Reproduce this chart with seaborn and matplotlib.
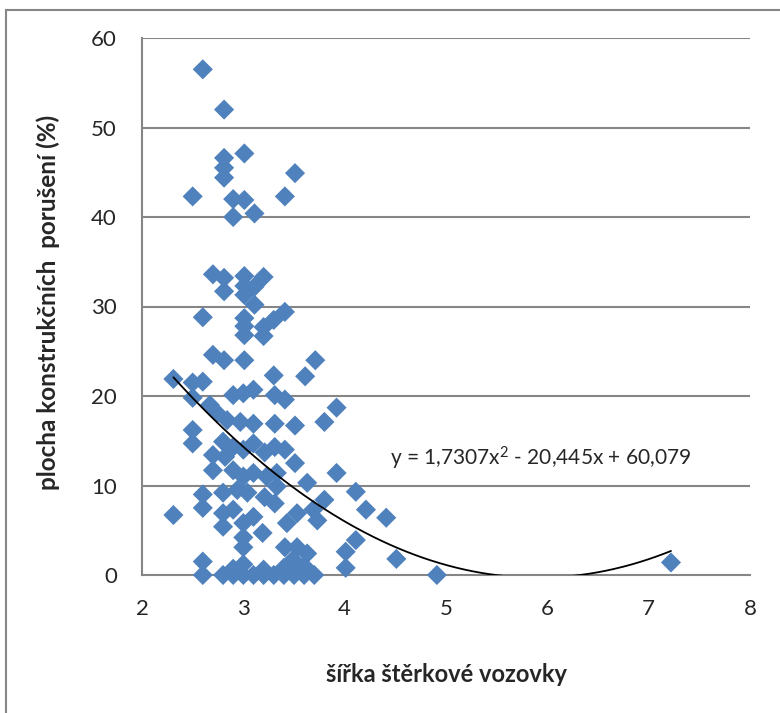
import numpy as np
import pandas as pd
import matplotlib
matplotlib.use("Agg")
import matplotlib.pyplot as plt
import seaborn as sns
from matplotlib.patches import Rectangle

# ---- data ----
sirka = [2.60, 2.81, 2.81, 3.01, 2.81, 2.81, 2.50, 3.51, 2.90, 3.01, 3.41, 2.90, 3.11,
         2.70, 2.81, 2.81, 3.01, 3.01, 3.20, 3.11, 3.01, 3.11, 2.60, 3.01, 3.01, 3.01, 3.20, 3.20, 3.30, 3.41,
         2.70, 2.81, 3.01, 3.71, 3.30, 3.61, 2.31, 2.50, 2.60,
         2.90, 3.00, 3.10, 3.31, 3.41, 2.50, 2.67, 3.92, 3.80, 2.74, 2.84, 2.97, 3.10, 3.31, 3.51, 2.50, 2.50,
         2.80, 2.90, 2.70, 2.70, 2.82, 3.00, 3.10, 3.21, 3.31, 3.41, 3.51, 2.90, 3.00, 3.10, 3.23, 3.33, 3.63,
         3.92, 4.11, 4.21, 4.41,
         2.60, 2.60, 2.31, 2.80, 2.94, 3.04, 2.80, 2.80, 2.90, 3.00, 3.00, 3.00, 3.10, 3.19, 3.21, 3.31, 3.33,
         3.43, 3.53, 3.73, 3.80, 3.69, 4.11, 4.01, 4.01, 2.60, 3.41, 3.53, 3.63, 3.49, 4.51, 4.91, 7.22,
         2.60, 2.80, 2.90, 3.00, 3.10, 3.20, 3.30, 3.40, 3.50, 3.60, 3.70,
         2.90, 3.20, 3.40, 3.50, 3.60, 3.00]
plocha = [56.5, 52.0, 46.6, 47.1, 45.5, 44.4, 42.3, 44.9, 42.0, 41.9, 42.3, 40.0, 40.4,
          33.6, 33.2, 31.7, 33.4, 32.3, 33.3, 32.2, 31.3, 30.2, 28.8, 28.7, 27.8, 26.8, 27.7, 26.7, 28.5, 29.4,
          24.6, 24.0, 24.0, 24.0, 22.3, 22.2, 21.9, 21.5, 21.6,
          20.1, 20.3, 20.7, 20.1, 19.6, 19.8, 19.0, 18.7, 17.1, 18.1, 17.3, 17.1, 16.9, 16.9, 16.7, 16.2, 14.7,
          14.9, 14.3, 13.4, 11.7, 13.2, 14.0, 14.7, 13.7, 14.3, 14.0, 12.5, 11.7, 11.0, 11.4, 11.0, 11.4, 10.3,
          11.4, 9.3, 7.3, 6.4,
          9.0, 7.5, 6.7, 9.2, 9.5, 9.2, 6.9, 5.4, 7.3, 5.8, 4.2, 3.1, 6.5, 4.7, 8.7, 8.0, 9.9,
          5.8, 6.9, 6.1, 8.4, 7.3, 3.9, 2.6, 0.8, 1.5, 3.1, 3.1, 2.4, 1.7, 1.8, 0.0, 1.4,
          0.0, 0.0, 0.0, 0.0, 0.0, 0.0, 0.0, 0.0, 0.0, 0.0, 0.0,
          0.7, 0.6, 0.8, 0.5, 1.0, 1.2]

# trendline coefficients (as printed on the chart)
coef_a, coef_b, coef_c = 1.7307, -20.445, 60.079
rovnice = "y = 1,7307x$^2$ - 20,445x + 60,079"

x_ticks = [2, 3, 4, 5, 6, 7, 8]
y_ticks = [0, 10, 20, 30, 40, 50, 60]
x_label = "šířka štěrkové vozovky"
y_label = "plocha konstrukčních  porušení (%)"

df = pd.DataFrame({"sirka": sirka, "plocha": plocha})

sns.set_style("white")
plt.rcParams["font.family"] = ["Lato", "DejaVu Sans"]
plt.rcParams["mathtext.default"] = "regular"

fig = plt.figure(figsize=(7.8, 7.13), dpi=100)
ax = fig.add_axes([142/780, 1 - 575/713, (750 - 142)/780, (575 - 38)/713])

grid_c = "#868686"
for yv in y_ticks[1:]:
    ax.axhline(yv, color=grid_c, lw=1.5, zorder=0)

sns.scatterplot(data=df, x="sirka", y="plocha", marker="D", s=105,
                color="#4F81BD", edgecolor="none", ax=ax, zorder=3, clip_on=False)

xs = np.linspace(min(sirka), max(sirka), 300)
ys = coef_a * xs**2 + coef_b * xs + coef_c
ax.plot(xs, ys, color="black", lw=1.3, zorder=4)

ax.set_xlim(2, 8)
ax.set_ylim(0, 60)
ax.set_xticks(x_ticks)
ax.set_yticks(y_ticks)
ax.tick_params(axis="both", direction="out", length=6, width=1.5, color=grid_c,
               labelsize=16)
ax.tick_params(axis="x", pad=11)
ax.tick_params(axis="y", pad=12)
for side in ["top", "right"]:
    ax.spines[side].set_visible(False)
for side in ["left", "bottom"]:
    ax.spines[side].set_color(grid_c)
    ax.spines[side].set_linewidth(1.5)

ax.set_xlabel(x_label, fontsize=17, fontweight="bold")
ax.set_ylabel(y_label, fontsize=17.5, fontweight="bold")
ax.xaxis.set_label_coords((446 - 142) / 608, (575 - 675) / 537)
ax.xaxis.label.set_va("center")
ax.yaxis.set_label_coords((48 - 142) / 608, (575 - 302) / 537)
ax.yaxis.label.set_va("center")

ax.text(4.45, 13.0, rovnice, fontsize=15, va="center", ha="left", zorder=5)

fig.patches.append(Rectangle((6/780, -0.05), 1.1, 1 - 10/713 + 0.05,
                             transform=fig.transFigure, fill=False,
                             edgecolor="#868686", lw=1.5))

fig.savefig("out.png", dpi=100)
